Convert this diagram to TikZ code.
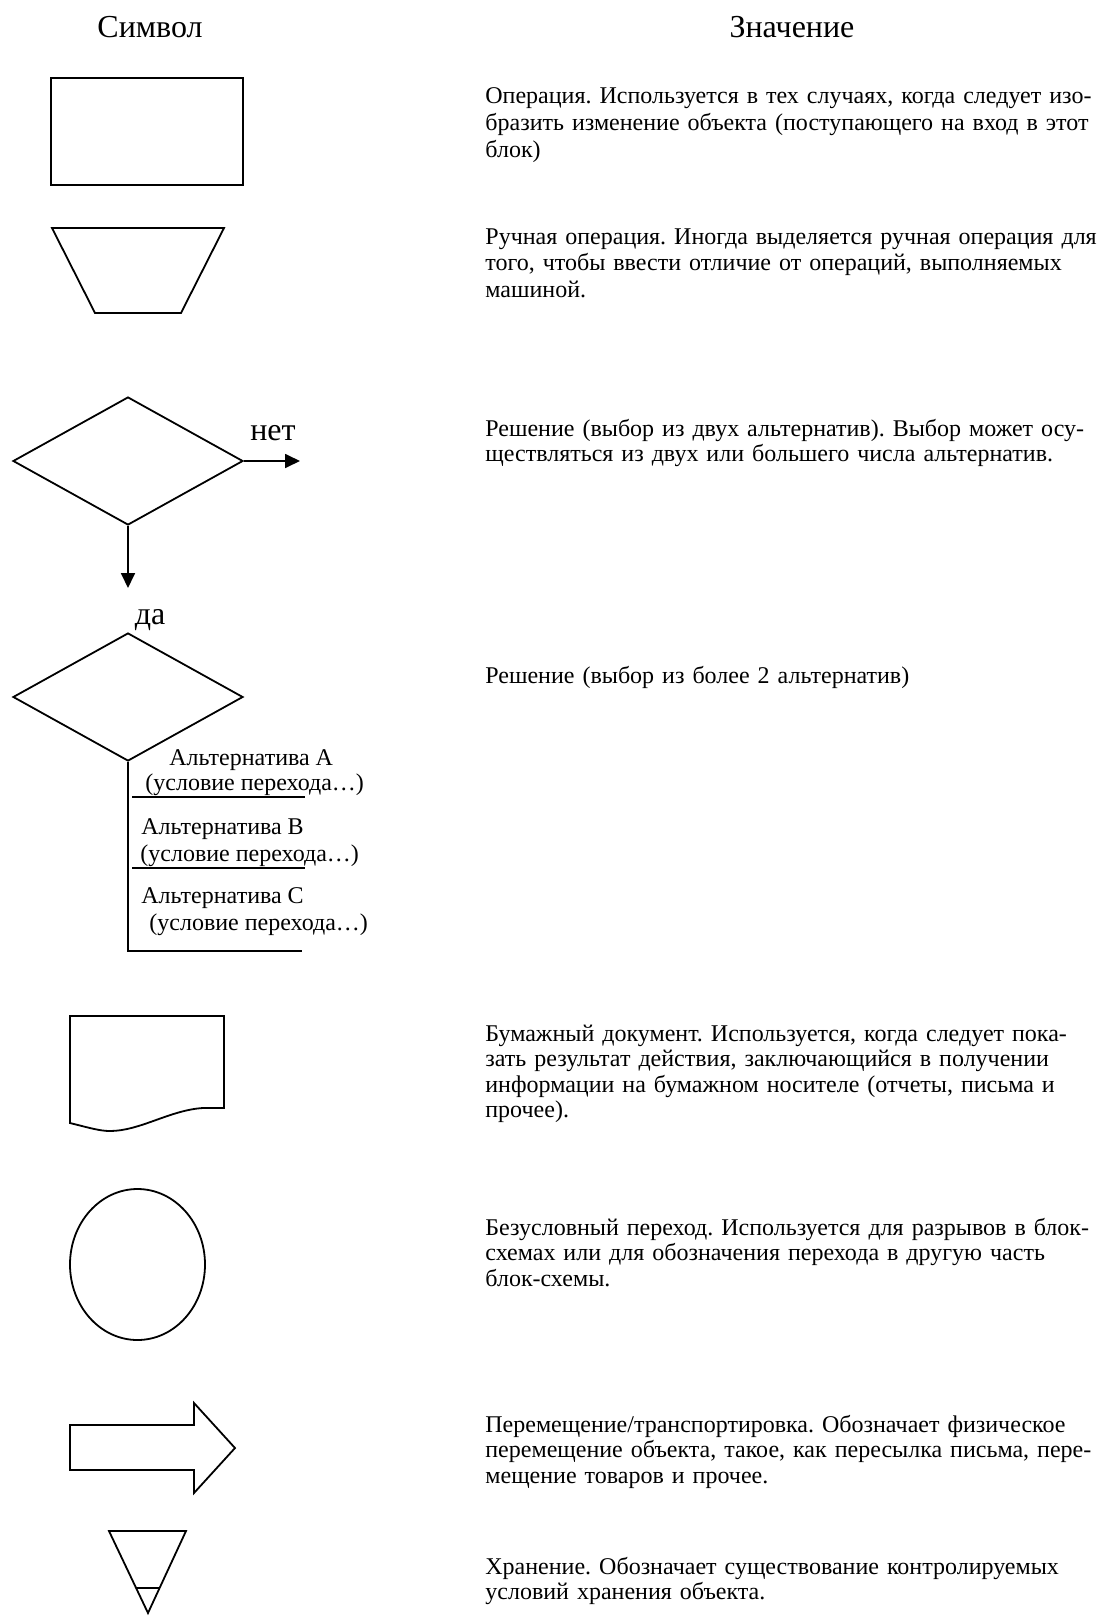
\documentclass[tikz,border=0pt]{standalone}
\usepackage{fontspec}
\setmainfont{Liberation Serif}
\frenchspacing
\usetikzlibrary{shapes.geometric,arrows.meta}
\tikzstyle{symbol} = [draw,line width=0.9pt,inner sep=0pt]
\tikzstyle{line} = [line width=0.9pt]
\tikzstyle{arrow} = [line width=0.9pt,-{Triangle[length=7.5pt,width=7pt]}]
\tikzstyle{descr} = [anchor=base west,inner sep=0pt,text width=330pt,align=left,font=\fontsize{12}{12.8}\selectfont]
\tikzstyle{head} = [inner sep=0pt,font=\fontsize{16}{18}\selectfont]
\tikzstyle{alt} = [anchor=base west,inner sep=0pt,font=\fontsize{12}{14}\selectfont]

\begin{document}
\begin{tikzpicture}[x=0.5pt,y=-0.5pt]
        \useasboundingbox (0,0) rectangle (1098,1616);
        \node[head] at (150,27) (sym) {Символ};
        \node[head] at (792,27) (mean) {Значение};

        % symbols
        \node[symbol, rectangle, minimum width=96pt, minimum height=53.5pt] at (147,131.5) (op) {};
        \draw[line] (52,228) -- (224,228) -- (181,313) -- (95,313) -- cycle;

        \node[symbol, diamond, minimum width=115pt, minimum height=64pt] at (128,461) (dec) {};
        \coordinate (no) at (300,461);
        \coordinate (yes) at (128,588);
        \draw[arrow] (dec.east) -- (no);
        \draw[arrow] (dec.south) -- (yes);
        \node[head] at (273,433) (nolbl) {нет};
        \node[head, anchor=base] at (150,624) (yeslbl) {да};

        \node[symbol, diamond, minimum width=115pt, minimum height=64pt] at (128,697) (multi) {};
        \coordinate (bend) at (128,951);
        \coordinate (altend) at (302,951);
        \draw[line] (multi.south) -- (bend) -- (altend);
        \draw[line] (132,797) -- (305,797);
        \draw[line] (132,868) -- (305,868);
        \node[alt] at (169,765) (altA) {Альтернатива А};
        \node[alt] at (145,790) (condA) {(условие перехода…)};
        \node[alt] at (141,834) (altB) {Альтернатива В};
        \node[alt] at (140,861) (condB) {(условие перехода…)};
        \node[alt] at (141,903) (altC) {Альтернатива С};
        \node[alt] at (149,930) (condC) {(условие перехода…)};

        \draw[line] (70,1123) .. controls (90,1128) and (100,1131) .. (110,1131)
              .. controls (140,1131) and (170,1110) .. (203,1108) -- (224,1108)
              -- (224,1016) -- (70,1016) -- cycle;
        \node[symbol, ellipse, minimum width=67.5pt, minimum height=75.5pt] at (137.5,1264.5) (jump) {};
        \draw[line] (70,1425) -- (194,1425) -- (194,1403) -- (235,1448) -- (194,1493)
              -- (194,1470) -- (70,1470) -- cycle;
        \draw[line] (109,1531) -- (186,1531) -- (148,1613) -- cycle;
        \draw[line] (136,1588) -- (160,1588);

        % descriptions
        \node[descr, font=\fontsize{12}{13.4}\selectfont] at (485,104) (t1) {Операция. Используется в тех случаях, когда следует изо-\\бразить изменение объекта (поступающего на вход в этот\\блок)};
        \node[descr, font=\fontsize{12}{13.4}\selectfont] at (485,244) (t2) {Ручная операция. Иногда выделяется ручная операция для\\того, чтобы ввести отличие от операций, выполняемых\\машиной.};
        \node[descr] at (485,436) (t3) {Решение (выбор из двух альтернатив). Выбор может осу-\\ществляться из двух или большего числа альтернатив.};
        \node[descr] at (485,683) (t4) {Решение (выбор из более 2 альтернатив)};
        \node[descr] at (485,1041) (t5) {Бумажный документ. Используется, когда следует пока-\\зать результат действия, заключающийся в получении\\информации на бумажном носителе (отчеты, письма и\\прочее).};
        \node[descr] at (485,1235) (t6) {Безусловный переход. Используется для разрывов в блок-\\схемах или для обозначения перехода в другую часть\\блок-схемы.};
        \node[descr] at (485,1432) (t7) {Перемещение/транспортировка. Обозначает физическое\\перемещение объекта, такое, как пересылка письма, пере-\\мещение товаров и прочее.};
        \node[descr] at (485,1574) (t8) {Хранение. Обозначает существование контролируемых\\условий хранения объекта.};

      \end{tikzpicture}
\end{document}
